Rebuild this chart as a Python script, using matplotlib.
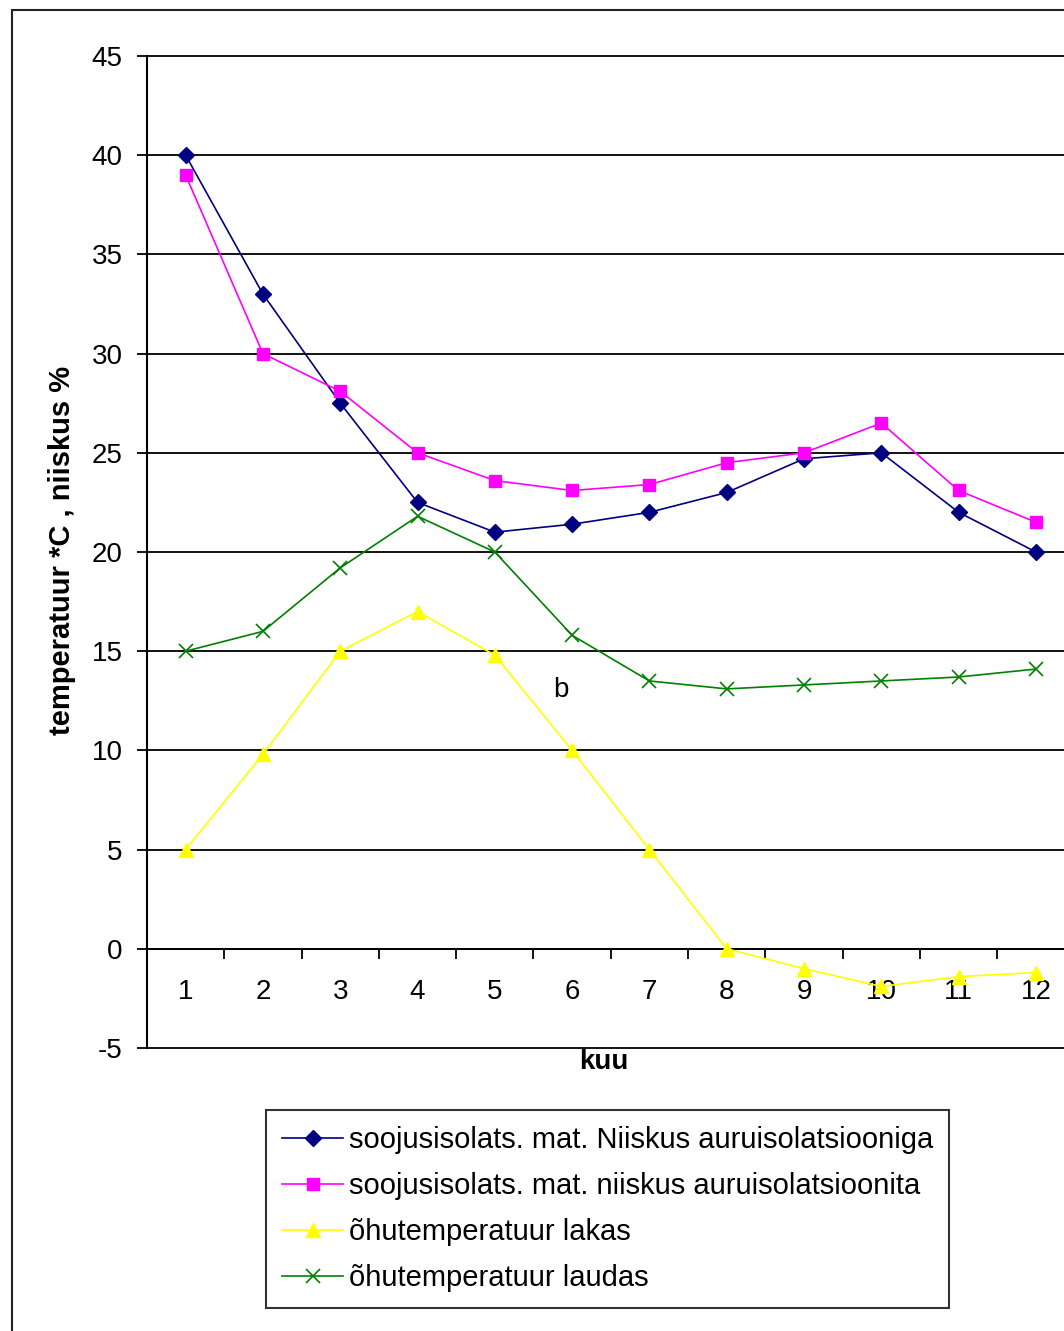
import numpy as np
import matplotlib.pyplot as plt
from matplotlib.patches import Rectangle

plt.rcParams['font.family'] = ['Liberation Sans', 'DejaVu Sans']
plt.rcParams['axes.unicode_minus'] = False

# --- data -------------------------------------------------------------
months = np.arange(1, 13)
niiskus_aur = [40, 33, 27.5, 22.5, 21, 21.4, 22, 23, 24.7, 25, 22, 20]
niiskus_ilma = [39, 30, 28.1, 25, 23.6, 23.1, 23.4, 24.5, 25, 26.5, 23.1, 21.5]
temp_lakas = [5, 9.8, 15, 17, 14.8, 10, 5, 0, -1, -1.9, -1.4, -1.2]
temp_laudas = [15, 16, 19.2, 21.8, 20, 15.8, 13.5, 13.1, 13.3, 13.5, 13.7, 14.1]
labels = ['soojusisolats. mat. Niiskus auruisolatsiooniga',
          'soojusisolats. mat. niiskus auruisolatsioonita',
          'õhutemperatuur lakas',
          'õhutemperatuur laudas']
y_ticks = np.arange(-5, 50, 5)

W, H = 1064, 1331
fig = plt.figure(figsize=(W / 100, H / 100), dpi=100)

# outer chart border (cut off at right and bottom like the source)
fig.patches.append(Rectangle((12 / W, -0.05), 1.2, 1 - 10 / H + 0.05,
                             transform=fig.transFigure, fill=False,
                             edgecolor='#222222', lw=1.5))

left, right, top, bottom = 147, 147 + 12 * 77.3, 56, 1048
ax = fig.add_axes([left / W, 1 - bottom / H, (right - left) / W, (bottom - top) / H])
ax.set_xlim(0.5, 12.5)
ax.set_ylim(-5, 45)

for v in y_ticks:
    ax.axhline(v, color='black', lw=1.3, clip_on=False, zorder=1)

ax.plot(months, niiskus_aur, color='#000080', lw=1.2, marker='D', ms=8,
        label=labels[0], zorder=3)
ax.plot(months, niiskus_ilma, color='#FF00FF', lw=1.2, marker='s', ms=9,
        label=labels[1], zorder=3)
ax.plot(months, temp_lakas, color='#FFFF00', lw=1.2, marker='^', ms=10,
        label=labels[2], zorder=3)
ax.plot(months, temp_laudas, color='#008000', lw=1.2, marker='x', ms=10,
        mew=1.2, label=labels[3], zorder=3)

ax.text(5.86, 13.05, 'b', fontsize=20, ha='center', va='center')

# axes styling, Excel-like
for s in ['top', 'right']:
    ax.spines[s].set_visible(False)
ax.spines['left'].set_linewidth(1.5)
ax.spines['bottom'].set_position(('data', 0))
ax.spines['bottom'].set_linewidth(1.3)

ax.set_yticks(y_ticks)
ax.tick_params(axis='y', direction='out', length=7, width=1.3, pad=10.5,
               labelsize=20)
ax.set_xticks(np.arange(0.5, 13, 1))
ax.set_xticklabels([])
ax.set_xticks(months, minor=True)
ax.set_xticklabels([str(m) for m in months], minor=True)
ax.tick_params(axis='x', which='major', direction='out', length=7, width=1.3)
ax.tick_params(axis='x', which='minor', length=0, pad=22, labelsize=20)

fig.text(62 / W, 1 - 550 / H, 'temperatuur *C , niiskus %', rotation=90,
         fontsize=21, fontweight='bold', ha='center', va='center')
fig.text(604 / W, 1 - 1062 / H, 'kuu', fontsize=20, fontweight='bold',
         ha='center', va='center')

leg = fig.legend(loc='upper left', bbox_to_anchor=(266 / W, 1 - 1110 / H),
                 fontsize=21, frameon=True, fancybox=False, handlelength=2.1,
                 handletextpad=0.2, labelspacing=0.62, borderpad=0.55,
                 borderaxespad=0)
leg.get_frame().set_edgecolor('black')
leg.get_frame().set_linewidth(1.5)

fig.savefig('out.png', dpi=100)
